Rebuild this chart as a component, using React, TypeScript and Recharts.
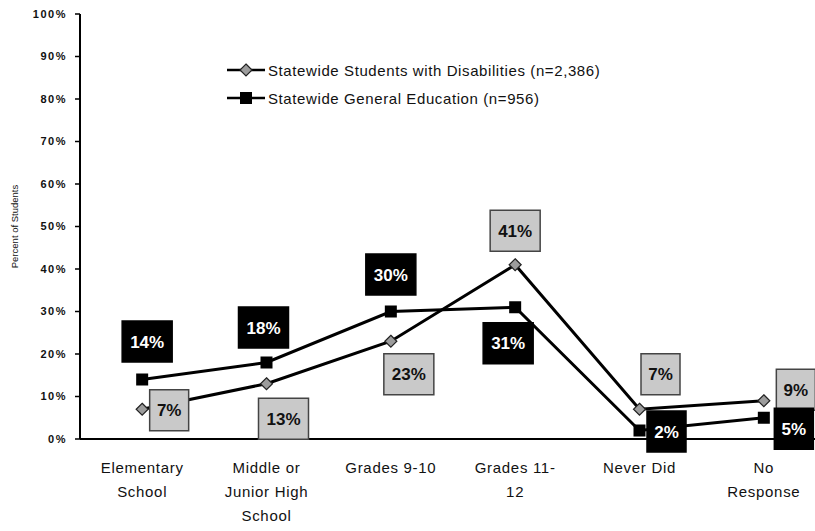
import React from "react"
import {
  LineChart,
  Line,
  XAxis,
  YAxis,
  Legend,
  LabelList,
} from "recharts"

const categories = [
  "Elementary\nSchool",
  "Middle or\nJunior High\nSchool",
  "Grades 9-10",
  "Grades 11-\n12",
  "Never Did",
  "No\nResponse",
]
const disabilities = [7, 13, 23, 41, 7, 9]
const generalEd = [14, 18, 30, 31, 2, 5]
const yTicks = [0, 10, 20, 30, 40, 50, 60, 70, 80, 90, 100]
const seriesNames = {
  dis: "Statewide Students with Disabilities (n=2,386)",
  gen: "Statewide General Education (n=956)",
}
const legendOrder = ["dis", "gen"]

// where each value box sits relative to its point (dx, dy)
const disLabelPos = [[27, 1], [17, 35], [18, 33], [0, -34], [21, -35], [32, -11]]
const genLabelPos = [[5, -38], [-3, -35], [0, -37], [-7, 36], [27, 1], [30, 11]]

const FONT = "'Liberation Sans', Arial, sans-serif"

const data = categories.map((c, i) => ({
  x: i + 0.5,
  name: c,
  dis: disabilities[i],
  gen: generalEd[i],
}))

function Diamond({ cx, cy, size = 6 }: { cx: number; cy: number; size?: number }) {
  return (
    <polygon
      points={`${cx},${cy - size} ${cx + size},${cy} ${cx},${cy + size} ${cx - size},${cy}`}
      fill="#9c9c9c"
      stroke="#222"
      strokeWidth={1.2}
    />
  )
}

function Square({ cx, cy, size = 6 }: { cx: number; cy: number; size?: number }) {
  return <rect x={cx - size} y={cy - size} width={size * 2} height={size * 2} fill="#000" />
}

function makeBoxLabel(pos: number[][], dark: boolean) {
  return (props: any) => {
    const { x, y, value, index } = props
    const [dx, dy] = pos[index]
    const text = `${value}%`
    const w = 17 + text.length * 11
    const h = 41
    const cx = x + dx
    const cy = y + dy
    return (
      <g key={`lbl-${dark ? "g" : "d"}-${index}`}>
        <rect
          x={cx - w / 2}
          y={cy - h / 2}
          width={w}
          height={h}
          fill={dark ? "#000" : "#c9c9c9"}
          stroke={dark ? "#000" : "#444"}
          strokeWidth={1.5}
        />
        <text
          x={cx}
          y={cy + 6}
          textAnchor="middle"
          fontFamily={FONT}
          fontWeight="bold"
          fontSize={17}
          fill={dark ? "#fff" : "#111"}
        >
          {text}
        </text>
      </g>
    )
  }
}

function CategoryTick({ x, y, payload }: any) {
  const lines = categories[Math.floor(payload.value)].split("\n")
  return (
    <g>
      {lines.map((l, i) => (
        <text
          key={i}
          x={x}
          y={y + 20 + i * 24}
          textAnchor="middle"
          fontFamily={FONT}
          fontSize={15}
          letterSpacing={0.7}
          fill="#111"
        >
          {l}
        </text>
      ))}
    </g>
  )
}

function LegendContent({ payload }: any) {
  const items = [...(payload || [])].sort(
    (a: any, b: any) => legendOrder.indexOf(a.dataKey) - legendOrder.indexOf(b.dataKey)
  )
  return (
    <div style={{ fontFamily: FONT, fontSize: 15, letterSpacing: 0.6, color: "#111" }}>
      {items.map((p: any) => (
        <div key={p.dataKey} style={{ display: "flex", alignItems: "center", height: 28 }}>
          <svg width={40} height={16} style={{ marginRight: 2 }}>
            <line x1={1} y1={8} x2={39} y2={8} stroke="#000" strokeWidth={2.5} />
            {p.dataKey === "dis" ? <Diamond cx={20} cy={8} size={6} /> : <Square cx={20} cy={8} size={6} />}
          </svg>
          <span>{p.value}</span>
        </div>
      ))}
    </div>
  )
}

export default function App() {
  return (
    <div
      style={{
        position: "absolute",
        left: 0,
        top: 0,
        width: 815,
        height: 531,
        overflow: "hidden",
        background: "#fff",
      }}
    >
      <LineChart
        width={830}
        height={531}
        data={data}
        margin={{ top: 14, right: 4, bottom: 0, left: 0 }}
      >
        <XAxis
          xAxisId={0}
          dataKey="x"
          type="number"
          domain={[0, 6]}
          ticks={[0, 1, 2, 3, 4, 5, 6]}
          tick={false}
          tickSize={5}
          height={6}
          axisLine={{ stroke: "#000", strokeWidth: 2 }}
          tickLine={{ stroke: "#000", strokeWidth: 1.5 }}
        />
        <XAxis
          xAxisId={1}
          dataKey="x"
          type="number"
          domain={[0, 6]}
          ticks={[0.5, 1.5, 2.5, 3.5, 4.5, 5.5]}
          interval={0}
          tick={<CategoryTick />}
          tickLine={false}
          axisLine={false}
          height={86}
        />
        <YAxis
          type="number"
          domain={[0, 100]}
          ticks={yTicks}
          interval={0}
          width={80}
          tickSize={5}
          tickMargin={8}
          tickFormatter={(v) => `${v}%`}
          tick={{ fontFamily: FONT, fontSize: 11, fontWeight: "bold", fill: "#111", letterSpacing: 1.5 }}
          axisLine={{ stroke: "#000", strokeWidth: 2 }}
          tickLine={{ stroke: "#000", strokeWidth: 1.5 }}
          label={{
            value: "Percent of Students",
            angle: -90,
            position: "insideLeft",
            offset: 15,
            style: { textAnchor: "middle", fontFamily: FONT, fontSize: 9.5, fill: "#111" },
          }}
        />
        <Legend
          layout="vertical"
          align="center"
          verticalAlign="middle"
          wrapperStyle={{ left: 226, top: 56, width: 420 }}
          content={<LegendContent />}
        />
        <Line
          xAxisId={0}
          dataKey="dis"
          name={seriesNames.dis}
          stroke="#000"
          strokeWidth={3}
          isAnimationActive={false}
          dot={(p: any) => <Diamond key={`d-${p.index}`} cx={p.cx} cy={p.cy} />}
        >
          <LabelList dataKey="dis" content={makeBoxLabel(disLabelPos, false)} />
        </Line>
        <Line
          xAxisId={0}
          dataKey="gen"
          name={seriesNames.gen}
          stroke="#000"
          strokeWidth={3}
          isAnimationActive={false}
          dot={(p: any) => <Square key={`s-${p.index}`} cx={p.cx} cy={p.cy} />}
        >
          <LabelList dataKey="gen" content={makeBoxLabel(genLabelPos, true)} />
        </Line>
      </LineChart>
    </div>
  )
}
